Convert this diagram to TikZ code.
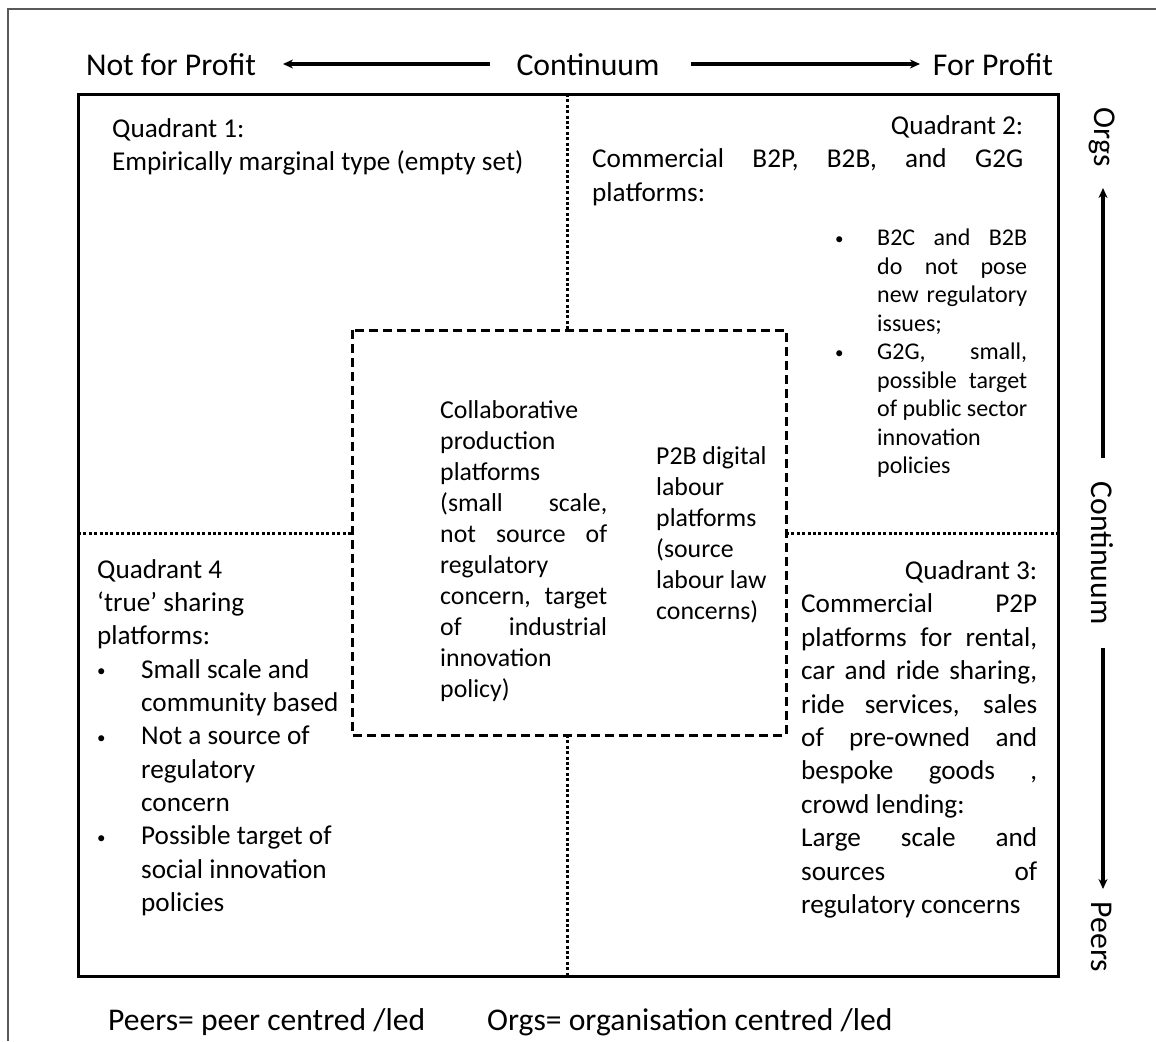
\documentclass[tikz,border=0pt]{standalone}
\usepackage{fontspec}
\setmainfont{Carlito}
\usetikzlibrary{arrows.meta}
% text blocks are stacked rows: justified, left-aligned or right-aligned
\newcommand{\jrow}[1]{\hbox to \hsize{\spaceskip=\fontdimen2\font plus 1fil\relax #1}}
\newcommand{\lrow}[1]{\hbox{#1}}
\newcommand{\rrow}[1]{\hbox to \hsize{\hfill #1}}
\newcommand{\textblock}[3]{\vtop{\hsize=#1\relax\baselineskip=#2\relax\lineskiplimit=-1000pt\relax\parindent=0pt #3}}
\newcommand{\smallbul}{\raisebox{1.5pt}{\fontsize{17}{17}\selectfont\textbullet}}
\newcommand{\bulA}{\llap{\hbox to 42pt{\smallbul\hfil}}}
\newcommand{\bulB}{\hbox to 44pt{\smallbul\hfil}}

\begin{document}
\begin{tikzpicture}[x=1pt,y=-1pt,
  pageframe/.style={draw=black!65, line width=1.4pt},
  mainframe/.style={draw=black, line width=3pt},
  divider/.style={draw=black, line width=3pt, dash pattern=on 3pt off 2.4pt},
  corebox/.style={draw=black, line width=3pt, dash pattern=on 9pt off 5pt},
  axisarrow/.style={draw=black, line width=3.4pt, -{Stealth[length=10pt,width=9pt]}},
  axislabel/.style={inner sep=0pt, font=\fontsize{31.7}{36}\selectfont},
  qtext/.style={anchor=base west, inner sep=0pt, font=\fontsize{27.2}{33}\selectfont},
  ctext/.style={anchor=base west, inner sep=0pt, font=\fontsize{25.8}{31}\selectfont},
  btext/.style={anchor=base west, inner sep=0pt, font=\fontsize{24}{28.5}\selectfont},
  note/.style={anchor=base west, inner sep=0pt, font=\fontsize{31.6}{36}\selectfont}
]
\useasboundingbox (0,0) rectangle (1156,1041);

% page frame
\draw[pageframe] (8,1041) -- (8,9) -- (1156,9);

% quadrant grid
\draw[mainframe] (78,94) rectangle (1058,976);
\draw[divider] (567,94) -- (567,330);
\draw[divider] (567,735) -- (567,976);
\draw[divider] (78,533) -- (352,533);
\draw[divider] (786,533) -- (1058,533);
\draw[corebox] (352,330) rectangle (786,735);

% horizontal axis
\node[axislabel] (nfp) at (171,65) {Not for Profit};
\node[axislabel] (hcont) at (588,65) {Continuum};
\node[axislabel] (fp) at (993,65) {For Profit};
\coordinate (hl1) at (490,64);
\coordinate (hl2) at (283,64);
\coordinate (hr1) at (691,64);
\coordinate (hr2) at (920,64);
\draw[axisarrow] (hl1) -- (hl2);
\draw[axisarrow] (hr1) -- (hr2);

% vertical axis
\node[axislabel, rotate=-90] (orgs) at (1102,137) {Orgs};
\node[axislabel, rotate=-90] (vcont) at (1102,553) {Continuum};
\node[axislabel, rotate=-90] (peers) at (1102,937) {Peers};
\coordinate (vu1) at (1103,458);
\coordinate (vu2) at (1103,188);
\coordinate (vd1) at (1103,648);
\coordinate (vd2) at (1103,889);
\draw[axisarrow] (vu1) -- (vu2);
\draw[axisarrow] (vd1) -- (vd2);

% quadrant 1
\node[qtext] (q1) at (112,137.7) {\textblock{440pt}{33pt}{%
  \lrow{Quadrant 1:}
  \lrow{Empirically marginal type (empty set)}}};

% quadrant 2
\node[qtext] (q2) at (592,134.3) {\textblock{431pt}{33.5pt}{%
  \rrow{Quadrant 2:}
  \jrow{Commercial B2P, B2B, and G2G}
  \lrow{platforms:}}};
\node[btext] (q2list) at (877,245.5) {\textblock{150pt}{28.5pt}{%
  \jrow{\bulA B2C and B2B}
  \jrow{do not pose}
  \jrow{new regulatory}
  \lrow{issues;}
  \jrow{\bulA G2G, small,}
  \jrow{possible target}
  \jrow{of public sector}
  \lrow{innovation}
  \lrow{policies}}};

% centre
\node[ctext] (collab) at (440,418) {\textblock{167pt}{31pt}{%
  \lrow{Collaborative}
  \lrow{production}
  \lrow{platforms}
  \jrow{(small scale,}
  \jrow{not source of}
  \lrow{regulatory}
  \jrow{concern, target}
  \jrow{of industrial}
  \lrow{innovation}
  \lrow{policy)}}};
\node[ctext] (p2b) at (656,464) {\textblock{120pt}{31pt}{%
  \lrow{P2B digital}
  \lrow{labour}
  \lrow{platforms}
  \lrow{(source}
  \lrow{labour law}
  \lrow{concerns)}}};

% quadrant 3
\node[qtext] (q3) at (801,579.5) {\textblock{236pt}{33.4pt}{%
  \rrow{Quadrant 3:}
  \jrow{Commercial P2P}
  \jrow{platforms for rental,}
  \jrow{car and ride sharing,}
  \jrow{ride services, sales}
  \jrow{of pre-owned and}
  \jrow{bespoke goods ,}
  \lrow{crowd lending:}
  \jrow{Large scale and}
  \jrow{sources of}
  \lrow{regulatory concerns}}};

% quadrant 4
\node[qtext] (q4) at (97,578.3) {\textblock{260pt}{33.3pt}{%
  \lrow{Quadrant 4}
  \lrow{`true' sharing}
  \lrow{platforms:}
  \lrow{\bulB Small scale and}
  \lrow{\hskip44pt community based}
  \lrow{\bulB Not a source of}
  \lrow{\hskip44pt regulatory}
  \lrow{\hskip44pt concern}
  \lrow{\bulB Possible target of}
  \lrow{\hskip44pt social innovation}
  \lrow{\hskip44pt policies}}};

% legend
\node[note] (lpeers) at (108,1030) {Peers= peer centred /led};
\node[note] (lorgs) at (487,1030) {Orgs= organisation centred /led};
\end{tikzpicture}
\end{document}
